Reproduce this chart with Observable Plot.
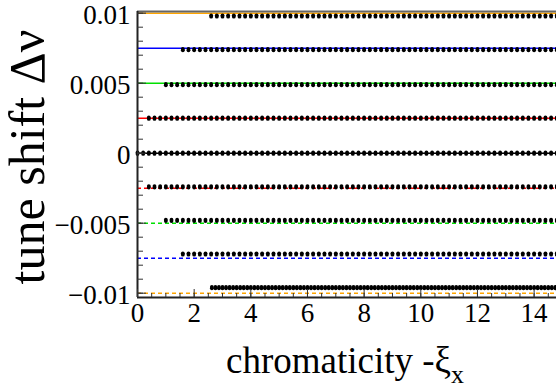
<!DOCTYPE html>
<html>
<head>
<meta charset="utf-8">
<script src="https://cdn.jsdelivr.net/npm/d3@7"></script>
<script src="https://cdn.jsdelivr.net/npm/@observablehq/plot@0.6"></script>
<style>
  html, body { margin: 0; padding: 0; background: #fff; overflow: hidden; }
  #chart svg { display: block; }
</style>
</head>
<body>
<div id="chart"></div>
<script>
// Theoretical tune shift levels (lines) and tracked tune shifts (dots)
const lineShift = [0.01, 0.0075, 0.005, 0.0025, 0, -0.0025, -0.005, -0.0075, -0.01];
const lineColor = ["#ffa500", "#0000ff", "#00e000", "#ff0000", "#000000",
                   "#ff0000", "#00e000", "#0000ff", "#ffa500"];

const dotShift = [0.0098, 0.0074, 0.0049, 0.0025, 0, -0.0024, -0.0048, -0.0072, -0.0096];
const dotStart = [2.6, 1.6, 1.0, 0.4, 0, 0.4, 1.0, 1.6, 2.6];

// Chromaticity scan points
const chromaticity = [0,0.2,0.4,0.6,0.8,1,1.2,1.4,1.6,1.8,2,2.2,2.4,2.6,2.8,3,3.2,3.4,3.6,3.8,
  4,4.2,4.4,4.6,4.8,5,5.2,5.4,5.6,5.8,6,6.2,6.4,6.6,6.8,7,7.2,7.4,7.6,7.8,8,8.2,8.4,8.6,8.8,
  9,9.2,9.4,9.6,9.8,10,10.2,10.4,10.6,10.8,11,11.2,11.4,11.6,11.8,12,12.2,12.4,12.6,12.8,
  13,13.2,13.4,13.6,13.8,14,14.2,14.4,14.6,14.8];
// Finer scan used for the largest negative shift
const chromaticityFine = [2.625,2.75,2.875,3,3.125,3.25,3.375,3.5,3.625,3.75,3.875,4,4.125,4.25,
  4.375,4.5,4.625,4.75,4.875,5,5.125,5.25,5.375,5.5,5.625,5.75,5.875,6,6.125,6.25,6.375,6.5,
  6.625,6.75,6.875,7,7.125,7.25,7.375,7.5,7.625,7.75,7.875,8,8.125,8.25,8.375,8.5,8.625,8.75,
  8.875,9,9.125,9.25,9.375,9.5,9.625,9.75,9.875,10,10.125,10.25,10.375,10.5,10.625,10.75,
  10.875,11,11.125,11.25,11.375,11.5,11.625,11.75,11.875,12,12.125,12.25,12.375,12.5,12.625,
  12.75,12.875,13,13.125,13.25,13.375,13.5,13.625,13.75,13.875,14,14.125,14.25,14.375,14.5,
  14.625,14.75];

const xMajorTicks = [0, 2, 4, 6, 8, 10, 12, 14];
const xMinorTicks = [0,0.5,1,1.5,2,2.5,3,3.5,4,4.5,5,5.5,6,6.5,7,7.5,8,8.5,9,9.5,10,10.5,
  11,11.5,12,12.5,13,13.5,14,14.5];
const yMajorTicks = [-0.01, -0.005, 0, 0.005, 0.01];
const yTickLabels = ["\u22120.01", "\u22120.005", "0", "0.005", "0.01"];
const yMinorTicks = [-0.01,-0.009,-0.008,-0.007,-0.006,-0.005,-0.004,-0.003,-0.002,-0.001,0,
  0.001,0.002,0.003,0.004,0.005,0.006,0.007,0.008,0.009,0.01];

const xDomain = [0, 14.79];
const yDomain = [-0.010307, 0.010121];

const lines = lineShift.map((s, i) => ({shift: s, color: lineColor[i]}));
const dots = dotShift.flatMap((s, i) => {
  const grid = i === dotShift.length - 1 ? chromaticityFine : chromaticity;
  return grid.filter(x => x >= dotStart[i] - 1e-9).map(x => ({xi: x, shift: s}));
});

const font = "Liberation Serif, Times New Roman, serif";

const svg = Plot.plot({
  width: 556,
  height: 389,
  marginLeft: 137,
  marginRight: 0,
  marginTop: 11,
  marginBottom: 92,
  style: {fontFamily: font, background: "white", overflow: "visible"},
  x: {domain: xDomain, axis: null},
  y: {domain: yDomain, axis: null},
  marks: [
    Plot.ruleY(lines.filter(d => d.shift >= 0), {y: "shift", stroke: "color", strokeWidth: 1.5}),
    Plot.ruleY(lines.filter(d => d.shift < 0), {y: "shift", stroke: "color", strokeWidth: 1.5, strokeDasharray: "4,3"}),
    // slightly tall markers: two overlapping discs per point
    Plot.dot(dots, {x: "xi", y: "shift", r: 1.9, dy: -0.7, fill: "black", stroke: "none"}),
    Plot.dot(dots, {x: "xi", y: "shift", r: 1.9, dy: 0.7, fill: "black", stroke: "none"}),
    // frame: left and bottom axes, top border
    Plot.ruleY([yDomain[1]], {stroke: "#666", strokeWidth: 2}),
    Plot.ruleX([xDomain[0]], {stroke: "#222", strokeWidth: 2}),
    Plot.ruleY([yDomain[0]], {stroke: "#222", strokeWidth: 2}),
    // inward ticks
    Plot.axisX(xMinorTicks, {anchor: "bottom", tickSize: -4, tickFormat: () => "", label: null, stroke: "#333"}),
    Plot.axisX(xMajorTicks, {anchor: "bottom", tickSize: -8, tickFormat: () => "", label: null, stroke: "#333"}),
    Plot.axisY(yMinorTicks, {anchor: "left", tickSize: -6, tickFormat: () => "", label: null, stroke: "#333"}),
    Plot.axisY(yMajorTicks, {anchor: "left", tickSize: -9, tickFormat: () => "", label: null, stroke: "#333"}),
    // tick labels
    Plot.text(xMajorTicks, {x: d => d, frameAnchor: "bottom", dy: 24, text: d => String(d),
      fontSize: 27, fontFamily: font, fill: "black"}),
    Plot.text(yMajorTicks, {y: d => d, frameAnchor: "left", dx: -7, dy: 2, textAnchor: "end",
      text: (d, i) => yTickLabels[i], fontSize: 27, fontFamily: font, fill: "black"})
  ]
});

const root = d3.select(svg);

// x axis title with subscript
const xt = root.append("text")
  .attr("x", 345).attr("y", 373)
  .attr("text-anchor", "middle")
  .attr("font-family", font)
  .attr("font-size", 37)
  .attr("fill", "black");
xt.append("tspan").text("chromaticity -\u03be");
xt.append("tspan").attr("font-size", 26).attr("dy", 10).text("x");

// y axis title
root.append("text")
  .attr("transform", "translate(44,157) rotate(-90)")
  .attr("text-anchor", "middle")
  .attr("font-family", font)
  .attr("font-size", 50)
  .attr("fill", "black")
  .text("tune shift \u0394\u03bd");

document.getElementById("chart").append(svg);
</script>
</body>
</html>
